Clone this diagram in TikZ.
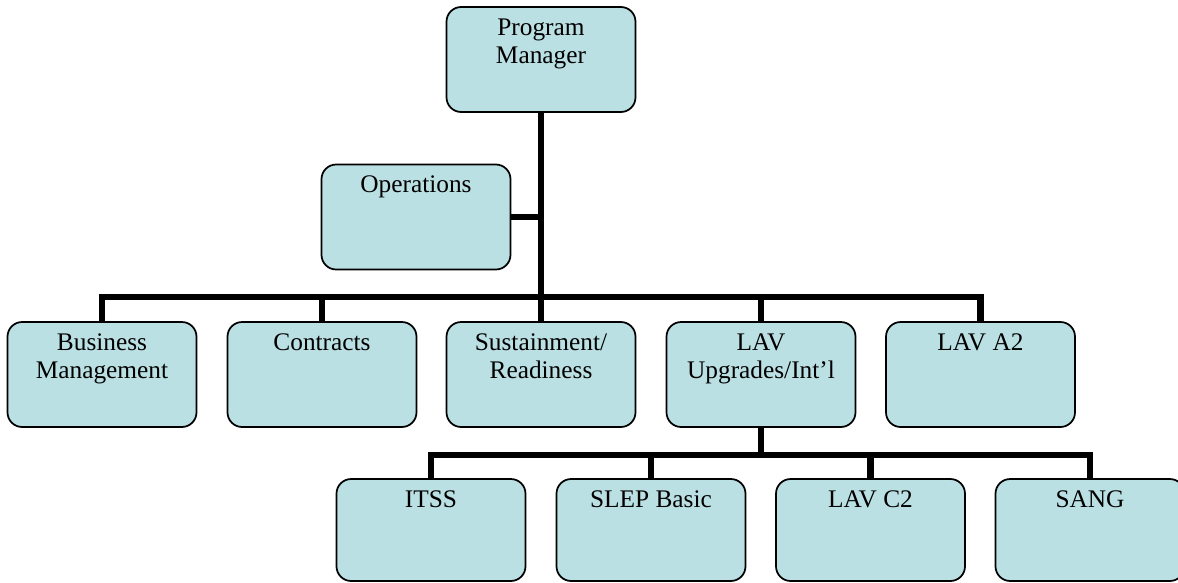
\documentclass[tikz,border=0pt]{standalone}
\usepackage{fontspec}
\setmainfont{Liberation Serif}
\definecolor{boxfill}{RGB}{187,224,227}
\newcommand{\boxtext}[2][78.75pt]{\parbox[c][#1][t]{138pt}{\centering\rule{0pt}{21pt}#2}}
\tikzset{every picture/.style={line width=0.75pt}}
\begin{document}
\begin{tikzpicture}[x=0.75pt,y=0.75pt,yscale=-1,xscale=1,
		unit/.style={draw, line width=1.3pt, fill=boxfill, rounded corners=11pt, inner sep=0pt, minimum width=141.75pt, minimum height=78.75pt, font=\fontsize{19pt}{21pt}\selectfont},
		bus/.style={line width=4.9pt},
		link/.style={line width=4pt}]
		\useasboundingbox (0,0) rectangle (1178,582);
		\clip (0,0) rectangle (1178,582);
		
		%top
		\node[unit] (pm) at (541,59.5) {\boxtext{Program\\Manager}};
		\node[unit] (ops) at (416,217) {\boxtext{Operations}};
		
		%second row
		\node[unit] (bm) at (102,374.5) {\boxtext{Business\\Management}};
		\node[unit] (con) at (322,374.5) {\boxtext{Contracts}};
		\node[unit] (sus) at (541,374.5) {\boxtext{Sustainment/\\Readiness}};
		\node[unit] (lav) at (761,374.5) {\boxtext{LAV\\Upgrades/Int’l}};
		\node[unit] (a2) at (980.5,374.5) {\boxtext{LAV A2}};
		
		%third row
		\node[unit, minimum height=76.5pt] (itss) at (431,530) {\boxtext[76.5pt]{ITSS}};
		\node[unit, minimum height=76.5pt] (slep) at (651,530) {\boxtext[76.5pt]{SLEP Basic}};
		\node[unit, minimum height=76.5pt] (c2) at (870.5,530) {\boxtext[76.5pt]{LAV C2}};
		\node[unit, minimum height=76.5pt] (sang) at (1090,530) {\boxtext[76.5pt]{SANG}};
		
		%connectors
		\coordinate (hub) at (541,297);
		\coordinate (subhub) at (761,455);
		\draw[bus] (pm.south) -- (sus.north);
		\draw[link] (ops.east) -- (ops.east -| pm.south);
		\draw[bus] (bm.north) |- (hub) -| (a2.north);
		\draw[bus] (con.north) -- (con.north |- hub);
		\draw[bus] (lav.north) -- (lav.north |- hub);
		\draw[bus] (lav.south) -- (subhub);
		\draw[bus] (itss.north) |- (subhub) -| (sang.north);
		\draw[bus] (slep.north) -- (slep.north |- subhub);
		\draw[bus] (c2.north) -- (c2.north |- subhub);
		
\end{tikzpicture}
\end{document}
